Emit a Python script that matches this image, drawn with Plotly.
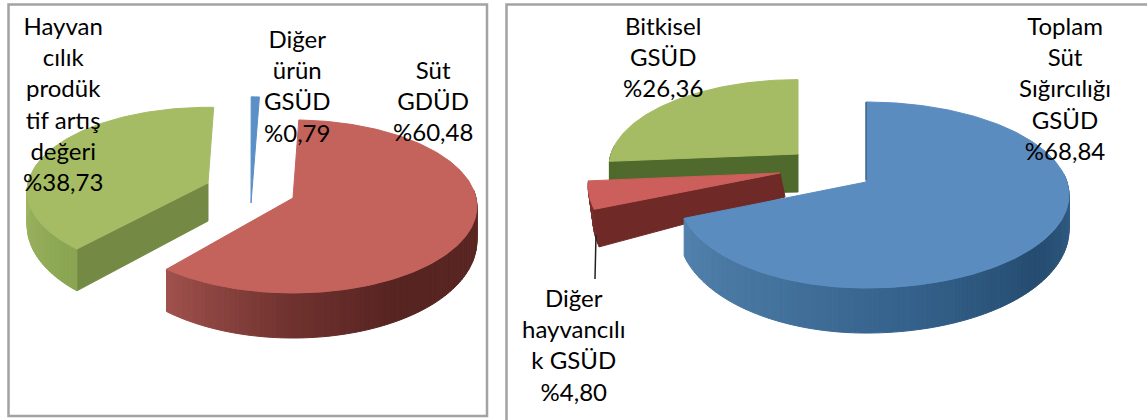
import numpy as np
import plotly.graph_objects as go

# ---- data ----
left_values = [60.48, 38.73, 0.79]
left_labels = ["Süt<br>GDÜD<br>%60,48",
               "Hayvan<br>cılık<br>prodük<br>tif artış<br>değeri<br>%38,73",
               "Diğer<br>ürün<br>GSÜD<br>%0,79"]
right_values = [68.84, 4.80, 26.36]
right_labels = ["Toplam<br>Süt<br>Sığırcılığı<br>GSÜD<br>%68,84",
                "Diğer<br>hayvancılı<br>k GSÜD<br>%4,80",
                "Bitkisel<br>GSÜD<br>%26,36"]

# ---- styling / projection ----
RED = "#c4625c"; GREEN = "#a5bc64"; BLUE = "#5b8cc0"
left_slices = [
    dict(apex=(293, 198), tweak=0, top=RED, radial=None,
         wall=[(90, "#5c2825"), (150, "#572422"), (180, "#6f322f"), (220, "#a2524e")]),
    dict(apex=(208, 183), tweak=2.8, top=GREEN, radial="#748a44", apex_h=38, rl=180, sy=0.97,
         wall=[(222, "#8aa552"), (270, "#9db560"), (276, "#a0b863")]),
    dict(apex=(251, 203), tweak=0.9, top="#5a90c6", radial=None, sy=1.36, wall=None),
]
right_slices = [
    dict(apex=(866, 182), tweak=0, top=BLUE, radial=None, rl=186,
         wall=[(80, "#3a6890"), (130, "#264c70"), (170, "#35628c"), (210, "#46759f"), (248, "#5482ae")]),
    dict(apex=(780, 173), tweak=0, top="#cc5f5b", radial="#6f2a28", apex_h=24, base_dx=5,
         wall=[(247, "#6f2a28"), (266, "#7a302d")]),
    dict(apex=(798, 154), tweak=0, top=GREEN, radial="#4f6a2c", apex_h=38, sy=0.93, rl=187,
         wall=[(264, "#4f6a2c"), (276, "#4f6a2c")]),
]
left_geom = dict(rot=2, rr=183, rl=183, ry=85.7, k=0.098)
right_geom = dict(rot=0, rr=201, rl=190, ry=91.2, k=0.14)
left_text = [(433, 100), (63, 103), (297, 85)]
right_text = [(1065, 88), (574, 344), (663, 56)]
FONT = dict(family="Lato, Carlito, sans-serif", size=24, color="#000000")

fig = go.Figure()


def poly(xs, ys, color):
    fig.add_trace(go.Scatter(x=list(xs), y=list(ys), mode="lines", fill="toself",
                             fillcolor=color, line=dict(color=color, width=1),
                             hoverinfo="skip", showlegend=False))


def mix(stops, a):
    angs = [s[0] for s in stops]
    rgb = [[int(s[1][i:i + 2], 16) for i in (1, 3, 5)] for s in stops]
    c = [np.interp(a, angs, [r[j] for r in rgb]) for j in range(3)]
    return "rgb(%d,%d,%d)" % tuple(c)


def project(th, s, g):
    t = np.radians(th)
    sn, cs = np.sin(t), np.cos(t)
    d = 1 + g["k"] * cs
    rx = np.where(sn > 0, g["rr"], s.get("rl", g["rl"]))
    return s["apex"][0] + rx * sn / d, s["apex"][1] - g["ry"] * s.get("sy", 1) * cs / d


def height(th):
    return 33 - 12 * np.cos(np.radians(th))


def draw_pie(values, slices, g, order):
    starts = g["rot"] + np.concatenate([[0], np.cumsum(values)[:-1]]) * 3.6
    for i in order:
        s = slices[i]
        a0 = starts[i] + s["tweak"]
        a1 = a0 + values[i] * 3.6
        ax, ay = s["apex"]
        dx = s.get("base_dx", 0)
        # radial face at the start of the slice
        if s["radial"]:
            ex, ey = project(a0, s, g)
            poly([ax, float(ex), float(ex) + dx, ax + dx, ax],
                 [ay, float(ey), float(ey) + float(height(a0)), ay + s["apex_h"], ay],
                 s["radial"])
        # outer wall, in narrow shaded strips
        if s["wall"]:
            lo, hi = max(a0, 85), min(a1, 276)
            if hi > lo:
                edges = np.linspace(lo, hi, max(2, int((hi - lo) / 1.5) + 1))
                for e0, e1 in zip(edges[:-1], edges[1:]):
                    th = np.array([e0, e1])
                    x, y = project(th, s, g)
                    h = height(th)
                    poly([x[0], x[1], x[1] + dx, x[0] + dx, x[0]],
                         [y[0], y[1], y[1] + h[1], y[0] + h[0], y[0]],
                         mix(s["wall"], (e0 + e1) / 2))
        # top surface
        th = np.linspace(a0, a1, max(3, int(values[i] * 3.6)))
        x, y = project(th, s, g)
        poly([ax, *x, ax], [ay, *y, ay], s["top"])


draw_pie(left_values, left_slices, left_geom, [1, 2, 0])
draw_pie(right_values, right_slices, right_geom, [2, 1, 0])

# dark edge of the blue slice and the leader line
fig.add_shape(type="line", x0=866, y0=102, x1=866, y1=180, line=dict(color="#2f4f6f", width=1))
fig.add_shape(type="line", x0=596, y0=235, x1=595, y1=279, line=dict(color="#222222", width=1.5))

# panel frames
fig.add_shape(type="rect", x0=8.5, y0=4.5, x1=487, y1=416, line=dict(color="#a3a3a3", width=2.5))
fig.add_shape(type="rect", x0=506.5, y0=4.5, x1=1160, y1=440, line=dict(color="#a3a3a3", width=2.5))

for labels, pos in ((left_labels, left_text), (right_labels, right_text)):
    for txt, (x, y) in zip(labels, pos):
        fig.add_annotation(x=x, y=y, text=txt, showarrow=False, font=FONT,
                           xanchor="center", yanchor="middle", align="center")

fig.update_layout(width=1147, height=420, margin=dict(l=0, r=0, t=0, b=0),
                  paper_bgcolor="white", plot_bgcolor="white", showlegend=False,
                  xaxis=dict(range=[0, 1147], visible=False, fixedrange=True),
                  yaxis=dict(range=[420, 0], visible=False, fixedrange=True))

fig.write_html("out.html", post_script="document.body.style.margin='0';",
               config=dict(displayModeBar=False))
